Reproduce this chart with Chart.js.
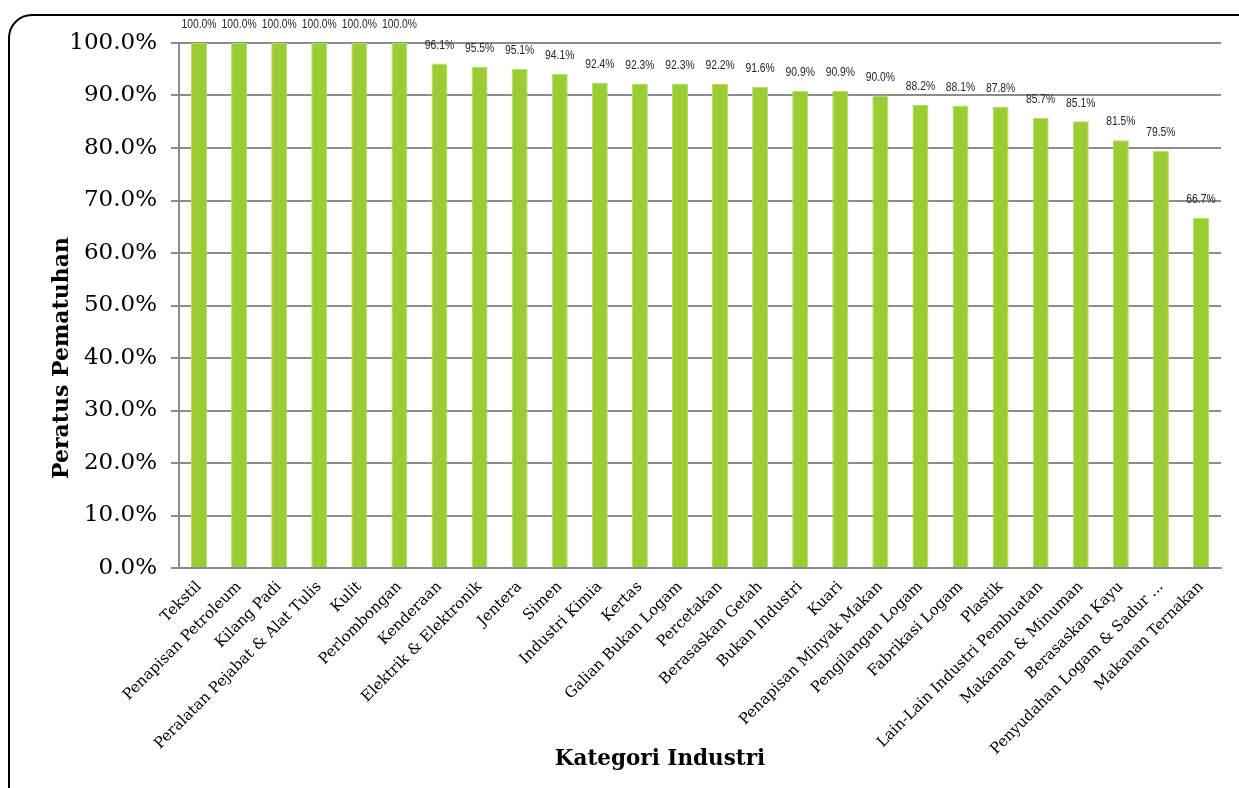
<!DOCTYPE html>
<html>
<head>
<meta charset="utf-8">
<script src="https://cdn.jsdelivr.net/npm/chart.js@4"></script>
<style>
  html, body { margin: 0; padding: 0; background: #fff; }
  #wrap { position: relative; width: 1239px; height: 788px; overflow: hidden; }
  #frame {
    position: absolute; left: 8px; top: 14px; width: 1260px; height: 800px;
    border: 2px solid #000; border-radius: 24px; pointer-events: none;
  }
</style>
</head>
<body>
<div id="wrap">
  <canvas id="chart" width="1239" height="788"></canvas>
  <div id="frame"></div>
</div>
<script>
// --- Data ---
const categories = [
  'Tekstil', 'Penapisan Petroleum', 'Kilang Padi', 'Peralatan Pejabat & Alat Tulis',
  'Kulit', 'Perlombongan', 'Kenderaan', 'Elektrik & Elektronik', 'Jentera', 'Simen',
  'Industri Kimia', 'Kertas', 'Galian Bukan Logam', 'Percetakan', 'Berasaskan Getah',
  'Bukan Industri', 'Kuari', 'Penapisan Minyak Makan', 'Pengilangan Logam',
  'Fabrikasi Logam', 'Plastik', 'Lain-Lain Industri Pembuatan', 'Makanan & Minuman',
  'Berasaskan Kayu', 'Penyudahan Logam & Sadur ...', 'Makanan Ternakan'
];
const compliance = [
  100.0, 100.0, 100.0, 100.0, 100.0, 100.0, 96.1, 95.5, 95.1, 94.1,
  92.4, 92.3, 92.3, 92.2, 91.6, 90.9, 90.9, 90.0, 88.2,
  88.1, 87.8, 85.7, 85.1, 81.5, 79.5, 66.7
];
const yTicks = [0, 10, 20, 30, 40, 50, 60, 70, 80, 90, 100];

const yTitle = 'Peratus Pematuhan';
const xTitle = 'Kategori Industri';

// value labels above each bar (slightly condensed, like Arial Narrow)
const valueLabels = {
  id: 'valueLabels',
  afterDatasetsDraw(chart) {
    const ctx = chart.ctx;
    const meta = chart.getDatasetMeta(0);
    meta.data.forEach((bar, i) => {
      ctx.save();
      ctx.font = '12px "Liberation Sans", Arial, sans-serif';
      ctx.fillStyle = '#262626';
      ctx.textAlign = 'center';
      ctx.textBaseline = 'middle';
      ctx.translate(bar.x, bar.y - 18);
      ctx.scale(0.86, 1);
      ctx.fillText(compliance[i].toFixed(1) + '%', 0, 0);
      ctx.restore();
    });
  }
};

// axis titles, placed like the original
const axisTitles = {
  id: 'axisTitles',
  afterDraw(chart) {
    const ctx = chart.ctx;
    ctx.save();
    ctx.font = 'bold 21.5px "DejaVu Serif", serif';
    ctx.fillStyle = '#000';
    ctx.textAlign = 'center';
    ctx.textBaseline = 'middle';
    ctx.fillText(xTitle, 660, 759);
    ctx.translate(62, 358);
    ctx.rotate(-Math.PI / 2);
    ctx.font = 'bold 22px "DejaVu Serif", serif';
    ctx.fillText(yTitle, 0, 0);
    ctx.restore();
  }
};

new Chart(document.getElementById('chart'), {
  type: 'bar',
  data: {
    labels: categories,
    datasets: [{
      data: compliance,
      backgroundColor: '#9acd32',
      borderColor: '#b5dc6a',
      borderWidth: 1,
      barPercentage: 0.4,
      categoryPercentage: 1.0
    }]
  },
  options: {
    responsive: false,
    animation: false,
    layout: { padding: { top: 43, right: 18, left: 0, bottom: 0 } },
    plugins: { legend: { display: false }, tooltip: { enabled: false } },
    scales: {
      x: {
        afterFit(scale) { scale.height = 220; },
        grid: { display: false },
        border: { display: true, color: '#8c8c8c', width: 2 },
        ticks: {
          color: '#000',
          maxRotation: 45,
          minRotation: 45,
          autoSkip: false,
          padding: 2,
          font: { family: '"DejaVu Serif", serif', size: 15 }
        }
      },
      y: {
        min: 0,
        max: 100,
        afterFit(scale) { scale.width = 179; },
        afterBuildTicks(scale) { scale.ticks = yTicks.map(v => ({ value: v })); },
        grid: { color: '#8c8c8c', lineWidth: 2, tickLength: 8 },
        border: { display: true, color: '#8c8c8c', width: 2 },
        ticks: {
          color: '#000',
          padding: 14,
          font: { family: '"DejaVu Serif", serif', size: 23 },
          callback: v => v.toFixed(1) + '%'
        }
      }
    }
  },
  plugins: [valueLabels, axisTitles]
});
</script>
</body>
</html>
